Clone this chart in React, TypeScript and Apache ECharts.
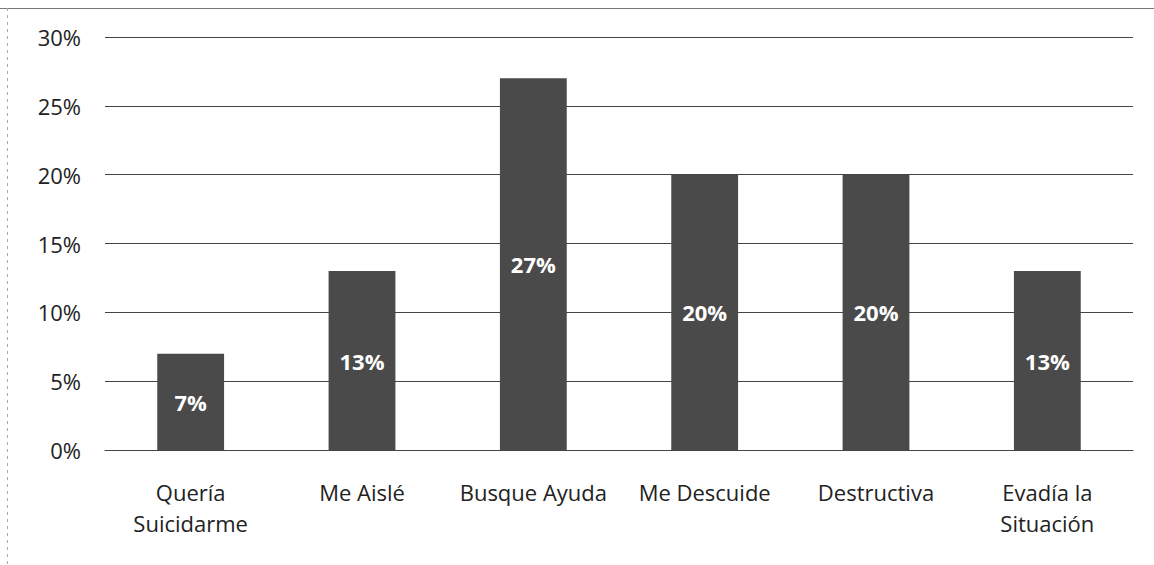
import React, { useEffect, useRef } from "react";
import * as echarts from "echarts";

const categories = [
  "Quería\nSuicidarme",
  "Me Aislé",
  "Busque Ayuda",
  "Me Descuide",
  "Destructiva",
  "Evadía la\nSituación",
];
const values = [7, 13, 27, 20, 20, 13];
const yTicks = [0, 5, 10, 15, 20, 25, 30];

const FONT = "'Open Sans', sans-serif";

export default function App() {
  const ref = useRef<HTMLDivElement>(null);
  useEffect(() => {
    if (!ref.current) return;
    const chart = echarts.init(ref.current, undefined, { renderer: "svg" });
    chart.setOption({
      animation: false,
      backgroundColor: "#ffffff",
      grid: { left: 105, right: 21, top: 37, bottom: 115, containLabel: false },
      xAxis: {
        type: "category",
        data: categories,
        axisTick: { show: false },
        axisLine: { show: true, lineStyle: { color: "#444", width: 1 } },
        axisLabel: {
          color: "#222",
          fontFamily: FONT,
          fontSize: 22,
          lineHeight: 31,
          margin: 26,
          interval: 0,
        },
      },
      yAxis: {
        type: "value",
        min: yTicks[0],
        max: yTicks[yTicks.length - 1],
        interval: 5,
        axisLine: { show: false },
        axisTick: { show: false },
        splitLine: { show: true, lineStyle: { color: "#444", width: 1 } },
        axisLabel: {
          color: "#222",
          fontFamily: FONT,
          fontSize: 22,
          margin: 24,
          formatter: (v: number) => `${v}%`,
        },
      },
      graphic: [
        {
          type: "line",
          shape: { x1: 0, y1: 8.5, x2: 1154, y2: 8.5 },
          style: { stroke: "#777", lineWidth: 1 },
          silent: true,
        },
        {
          type: "line",
          shape: { x1: 7.5, y1: 8, x2: 7.5, y2: 565 },
          style: { stroke: "#aaa", lineWidth: 1, lineDash: [3, 4] },
          silent: true,
        },
      ],
      series: [
        {
          type: "bar",
          data: values,
          barWidth: "39%",
          itemStyle: { color: "#4a4a4a" },
          label: {
            show: true,
            position: "inside",
            color: "#ffffff",
            fontFamily: FONT,
            fontWeight: "bold",
            fontSize: 22,
            formatter: (p: any) => `${p.value}%`,
          },
        },
      ],
    });
    return () => chart.dispose();
  }, []);
  return (
    <div
      ref={ref}
      style={{ position: "fixed", left: 0, top: 0, width: 1154, height: 565 }}
    />
  );
}
